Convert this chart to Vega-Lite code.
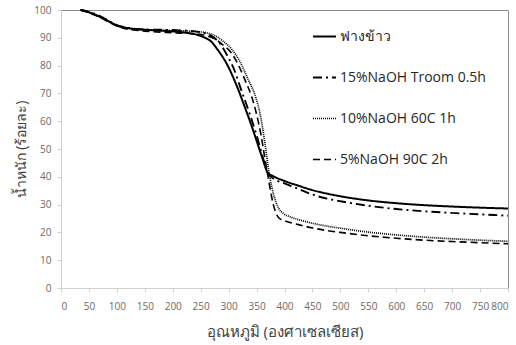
{
  "$schema": "https://vega.github.io/schema/vega-lite/v6.json",
  "width": 447,
  "height": 278,
  "autosize": {"type": "none"},
  "padding": {"left": 61, "top": 10, "right": 8, "bottom": 57},
  "background": "white",
  "config": {
    "font": "Open Sans, DejaVu Sans, sans-serif",
    "view": {"stroke": "#8c8c8c", "strokeWidth": 1}
  },
  "data": {"values": [
    {"s":"ฟางข้าว","t":35,"w":100},{"s":"ฟางข้าว","t":45,"w":99.5},{"s":"ฟางข้าว","t":60,"w":98.4},{"s":"ฟางข้าว","t":75,"w":97},{"s":"ฟางข้าว","t":90,"w":95.4},{"s":"ฟางข้าว","t":100,"w":94.4},{"s":"ฟางข้าว","t":115,"w":93.6},{"s":"ฟางข้าว","t":130,"w":93.2},{"s":"ฟางข้าว","t":150,"w":92.9},{"s":"ฟางข้าว","t":175,"w":92.6},{"s":"ฟางข้าว","t":200,"w":92.3},{"s":"ฟางข้าว","t":225,"w":91.8},{"s":"ฟางข้าว","t":245,"w":91},{"s":"ฟางข้าว","t":258,"w":90},{"s":"ฟางข้าว","t":268,"w":88.8},{"s":"ฟางข้าว","t":280,"w":85.8},{"s":"ฟางข้าว","t":297,"w":80.5},{"s":"ฟางข้าว","t":315,"w":72.5},{"s":"ฟางข้าว","t":330,"w":64.5},{"s":"ฟางข้าว","t":340,"w":59},{"s":"ฟางข้าว","t":350,"w":53},{"s":"ฟางข้าว","t":360,"w":47},{"s":"ฟางข้าว","t":370,"w":41.5},{"s":"ฟางข้าว","t":380,"w":40.2},{"s":"ฟางข้าว","t":400,"w":38.5},{"s":"ฟางข้าว","t":425,"w":36.8},{"s":"ฟางข้าว","t":450,"w":35.2},{"s":"ฟางข้าว","t":475,"w":34},{"s":"ฟางข้าว","t":500,"w":33},{"s":"ฟางข้าว","t":550,"w":31.5},{"s":"ฟางข้าว","t":600,"w":30.5},{"s":"ฟางข้าว","t":650,"w":29.8},{"s":"ฟางข้าว","t":700,"w":29.3},{"s":"ฟางข้าว","t":750,"w":28.9},{"s":"ฟางข้าว","t":800,"w":28.6},
    {"s":"15%NaOH Troom 0.5h","t":35,"w":100},{"s":"15%NaOH Troom 0.5h","t":45,"w":99.6},{"s":"15%NaOH Troom 0.5h","t":60,"w":98.7},{"s":"15%NaOH Troom 0.5h","t":75,"w":97.3},{"s":"15%NaOH Troom 0.5h","t":90,"w":95.6},{"s":"15%NaOH Troom 0.5h","t":100,"w":94.6},{"s":"15%NaOH Troom 0.5h","t":115,"w":93.8},{"s":"15%NaOH Troom 0.5h","t":130,"w":93.3},{"s":"15%NaOH Troom 0.5h","t":150,"w":93},{"s":"15%NaOH Troom 0.5h","t":200,"w":92.8},{"s":"15%NaOH Troom 0.5h","t":240,"w":92.3},{"s":"15%NaOH Troom 0.5h","t":260,"w":91.5},{"s":"15%NaOH Troom 0.5h","t":272,"w":90.3},{"s":"15%NaOH Troom 0.5h","t":285,"w":87.8},{"s":"15%NaOH Troom 0.5h","t":297,"w":83.8},{"s":"15%NaOH Troom 0.5h","t":310,"w":78.5},{"s":"15%NaOH Troom 0.5h","t":323,"w":71},{"s":"15%NaOH Troom 0.5h","t":338,"w":62.5},{"s":"15%NaOH Troom 0.5h","t":350,"w":55},{"s":"15%NaOH Troom 0.5h","t":362,"w":46.5},{"s":"15%NaOH Troom 0.5h","t":371,"w":41},{"s":"15%NaOH Troom 0.5h","t":385,"w":38.8},{"s":"15%NaOH Troom 0.5h","t":400,"w":37.6},{"s":"15%NaOH Troom 0.5h","t":425,"w":35.6},{"s":"15%NaOH Troom 0.5h","t":450,"w":33.6},{"s":"15%NaOH Troom 0.5h","t":475,"w":32.2},{"s":"15%NaOH Troom 0.5h","t":500,"w":31.2},{"s":"15%NaOH Troom 0.5h","t":550,"w":29.6},{"s":"15%NaOH Troom 0.5h","t":600,"w":28.4},{"s":"15%NaOH Troom 0.5h","t":650,"w":27.6},{"s":"15%NaOH Troom 0.5h","t":700,"w":27},{"s":"15%NaOH Troom 0.5h","t":750,"w":26.5},{"s":"15%NaOH Troom 0.5h","t":800,"w":26},
    {"s":"10%NaOH 60C 1h","t":35,"w":100},{"s":"10%NaOH 60C 1h","t":45,"w":99.5},{"s":"10%NaOH 60C 1h","t":60,"w":98.5},{"s":"10%NaOH 60C 1h","t":75,"w":97.1},{"s":"10%NaOH 60C 1h","t":90,"w":95.5},{"s":"10%NaOH 60C 1h","t":100,"w":94.5},{"s":"10%NaOH 60C 1h","t":115,"w":93.7},{"s":"10%NaOH 60C 1h","t":130,"w":93.2},{"s":"10%NaOH 60C 1h","t":150,"w":92.9},{"s":"10%NaOH 60C 1h","t":200,"w":92.6},{"s":"10%NaOH 60C 1h","t":240,"w":92.3},{"s":"10%NaOH 60C 1h","t":260,"w":91.8},{"s":"10%NaOH 60C 1h","t":275,"w":90.8},{"s":"10%NaOH 60C 1h","t":290,"w":88.8},{"s":"10%NaOH 60C 1h","t":305,"w":86},{"s":"10%NaOH 60C 1h","t":320,"w":81.5},{"s":"10%NaOH 60C 1h","t":335,"w":75},{"s":"10%NaOH 60C 1h","t":347,"w":69.5},{"s":"10%NaOH 60C 1h","t":357,"w":62},{"s":"10%NaOH 60C 1h","t":365,"w":52},{"s":"10%NaOH 60C 1h","t":372,"w":42},{"s":"10%NaOH 60C 1h","t":380,"w":34},{"s":"10%NaOH 60C 1h","t":390,"w":28.5},{"s":"10%NaOH 60C 1h","t":398,"w":26.8},{"s":"10%NaOH 60C 1h","t":410,"w":25.6},{"s":"10%NaOH 60C 1h","t":430,"w":24.3},{"s":"10%NaOH 60C 1h","t":450,"w":23.3},{"s":"10%NaOH 60C 1h","t":475,"w":22.3},{"s":"10%NaOH 60C 1h","t":500,"w":21.5},{"s":"10%NaOH 60C 1h","t":550,"w":20.1},{"s":"10%NaOH 60C 1h","t":600,"w":19.1},{"s":"10%NaOH 60C 1h","t":650,"w":18.3},{"s":"10%NaOH 60C 1h","t":700,"w":17.7},{"s":"10%NaOH 60C 1h","t":750,"w":17.2},{"s":"10%NaOH 60C 1h","t":800,"w":16.8},
    {"s":"5%NaOH 90C 2h","t":35,"w":100},{"s":"5%NaOH 90C 2h","t":45,"w":99.4},{"s":"5%NaOH 90C 2h","t":60,"w":98.2},{"s":"5%NaOH 90C 2h","t":75,"w":96.8},{"s":"5%NaOH 90C 2h","t":90,"w":95.2},{"s":"5%NaOH 90C 2h","t":100,"w":94.2},{"s":"5%NaOH 90C 2h","t":115,"w":93.3},{"s":"5%NaOH 90C 2h","t":130,"w":92.8},{"s":"5%NaOH 90C 2h","t":150,"w":92.4},{"s":"5%NaOH 90C 2h","t":200,"w":91.8},{"s":"5%NaOH 90C 2h","t":240,"w":91.4},{"s":"5%NaOH 90C 2h","t":260,"w":90.8},{"s":"5%NaOH 90C 2h","t":275,"w":89.6},{"s":"5%NaOH 90C 2h","t":290,"w":87.4},{"s":"5%NaOH 90C 2h","t":305,"w":84.5},{"s":"5%NaOH 90C 2h","t":318,"w":80},{"s":"5%NaOH 90C 2h","t":330,"w":74.5},{"s":"5%NaOH 90C 2h","t":341,"w":69},{"s":"5%NaOH 90C 2h","t":350,"w":62.5},{"s":"5%NaOH 90C 2h","t":358,"w":55},{"s":"5%NaOH 90C 2h","t":365,"w":46.5},{"s":"5%NaOH 90C 2h","t":371,"w":39.5},{"s":"5%NaOH 90C 2h","t":380,"w":30},{"s":"5%NaOH 90C 2h","t":390,"w":25.2},{"s":"5%NaOH 90C 2h","t":400,"w":24.2},{"s":"5%NaOH 90C 2h","t":425,"w":22.8},{"s":"5%NaOH 90C 2h","t":450,"w":21.6},{"s":"5%NaOH 90C 2h","t":475,"w":20.7},{"s":"5%NaOH 90C 2h","t":500,"w":20},{"s":"5%NaOH 90C 2h","t":550,"w":18.8},{"s":"5%NaOH 90C 2h","t":600,"w":17.9},{"s":"5%NaOH 90C 2h","t":650,"w":17.2},{"s":"5%NaOH 90C 2h","t":700,"w":16.7},{"s":"5%NaOH 90C 2h","t":750,"w":16.3},{"s":"5%NaOH 90C 2h","t":800,"w":15.9}
  ]},
  "mark": {"type": "line", "color": "black", "interpolate": "monotone"},
  "encoding": {
    "x": {
      "field": "t", "type": "quantitative",
      "scale": {"domain": [0, 800], "nice": false},
      "axis": {
        "title": "อุณหภูมิ (องศาเซลเซียส)", "values": [0,50,100,150,200,250,300,350,400,450,500,550,600,650,700,750,800],
        "grid": false, "domainColor": "#d0d0d0", "tickColor": "#d0d0d0", "tickSize": 4,
        "labelColor": "#6a6a6a", "labelFontSize": 10, "labelPadding": 9,
        "titleColor": "#404040", "titleFontSize": 15, "titleFontWeight": "normal", "titlePadding": 13
      }
    },
    "y": {
      "field": "w", "type": "quantitative",
      "scale": {"domain": [0, 100], "nice": false},
      "axis": {
        "title": "น้ำหนัก (ร้อยละ)", "values": [0,10,20,30,40,50,60,70,80,90,100],
        "grid": false, "domainColor": "#d0d0d0", "tickColor": "#d0d0d0", "tickSize": 4,
        "labelColor": "#6a6a6a", "labelFontSize": 10, "labelPadding": 6,
        "titleColor": "#404040", "titleFontSize": 14, "titleFontWeight": "normal", "titlePadding": 5
      }
    },
    "detail": {"field": "s"},
    "strokeDash": {
      "field": "s", "type": "nominal",
      "scale": {
        "domain": ["ฟางข้าว", "15%NaOH Troom 0.5h", "10%NaOH 60C 1h", "5%NaOH 90C 2h"],
        "range": [[1, 0], [9, 4, 2, 4], [1, 1], [7, 4]]
      },
      "legend": {
        "title": null, "orient": "none", "legendX": 251, "legendY": 14,
        "symbolType": "stroke", "symbolSize": 529, "symbolStrokeColor": "black",
        "labelFontSize": 14, "labelColor": "#262626", "labelOffset": 3,
        "rowPadding": 21, "padding": 0, "labelLimit": 300
      }
    },
    "strokeWidth": {
      "field": "s", "type": "nominal",
      "scale": {
        "domain": ["ฟางข้าว", "15%NaOH Troom 0.5h", "10%NaOH 60C 1h", "5%NaOH 90C 2h"],
        "range": [2, 1.6, 1, 1.8]
      },
      "legend": null
    }
  }
}
